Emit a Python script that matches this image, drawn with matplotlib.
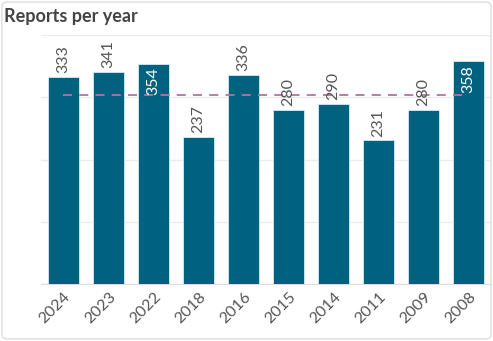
import matplotlib.pyplot as plt
from matplotlib.patches import FancyBboxPatch

years = ['2024', '2023', '2022', '2018', '2016', '2015', '2014', '2011', '2009', '2008']
reports = [333, 341, 354, 237, 336, 280, 290, 231, 280, 358]
y_ticks = [0, 100, 200, 300, 400]

plt.rcParams['font.family'] = ['Lato', 'DejaVu Sans']

fig = plt.figure(figsize=(4.93, 3.41), dpi=100)
ax = fig.add_axes([0.083, 0.167, 0.913, 0.730])

x = list(range(len(years)))
ax.bar(x, reports, width=0.69, color='#00627e', edgecolor='#cfeef5', linewidth=0.6, zorder=2)

mean = sum(reports) / len(reports)
ax.plot([x[0], x[-1]], [mean, mean], color='#a87a9e', linestyle=(0, (5, 4)), linewidth=1.3, zorder=3)

for xi, v in zip(x, reports):
    if v > 345:
        # too close to the top, put the label inside the bar
        ax.text(xi, v - 6, str(v), rotation=90, ha='center', va='top',
                color='white', fontsize=11.5, zorder=4)
    else:
        ax.text(xi, v + 6, str(v), rotation=90, ha='center', va='bottom',
                color='#555555', fontsize=11.5, zorder=4)

ax.set_xlim(-0.5, len(years) - 0.5)
ax.set_ylim(0, 400)
ax.set_yticks(y_ticks)
ax.set_yticklabels([])
ax.tick_params(axis='y', length=0)
ax.grid(axis='y', color='#ececec', linewidth=1, zorder=0)
ax.set_xticks(x)
ax.set_xticklabels(years, rotation=45, ha='right', rotation_mode='anchor',
                   fontsize=11.5, color='#555555')
ax.tick_params(axis='x', length=0, pad=4)
for side in ['top', 'right', 'left']:
    ax.spines[side].set_visible(False)
ax.spines['bottom'].set_color('#dddddd')
ax.spines['bottom'].set_zorder(1)

fig.text(0.008, 0.953, 'Reports per year', fontsize=13, fontweight='bold',
         color='#444444', ha='left', va='center')

frame = FancyBboxPatch((0.004, 0.006), 0.992, 0.988, boxstyle='round,pad=0,rounding_size=0.012',
                       transform=fig.transFigure, facecolor='none', edgecolor='#dddddd', linewidth=1)
fig.patches.append(frame)

fig.savefig('out.png', dpi=100)
